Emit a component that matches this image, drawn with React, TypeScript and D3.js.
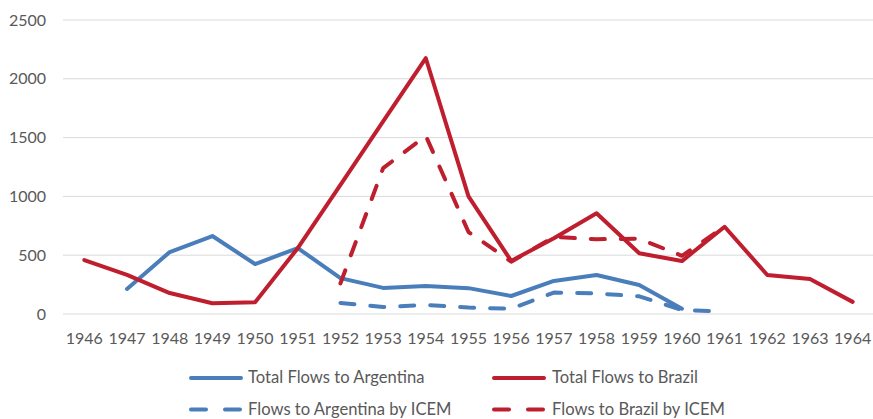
import React from "react";
import * as d3 from "d3";

const years: string[] = ["1946","1947","1948","1949","1950","1951","1952","1953","1954","1955","1956","1957","1958","1959","1960","1961","1962","1963","1964"];
const argentinaTotal: (number | null)[] = [null, 213, 527, 663, 425, 561, 305, 222, 238, 220, 153, 281, 332, 247, 45, null, null, null, null];
const brazilTotal: (number | null)[] = [459, 332, 178, 92, 100, 560, 1098, 1637, 2175, 1000, 451, 645, 857, 517, 450, 742, 332, 297, 103];
const argentinaICEM: (number | null)[] = [null, null, null, null, null, null, 94, 60, 77, 55, 45, 182, 175, 150, 35, 20, null, null, null];
const brazilICEM: (number | null)[] = [null, null, null, null, null, null, 260, 1240, 1515, 697, 445, 655, 636, 640, 495, 742, null, null, null];
const yTicks: number[] = [0, 500, 1000, 1500, 2000, 2500];

const BLUE = "#4a7ebb";
const RED = "#be1e2d";
const FONT = "Lato, 'Open Sans', sans-serif";
const TEXT = "#595959";

const seriesList = [
  { name: "Total Flows to Argentina", values: argentinaTotal, color: BLUE, dashed: false },
  { name: "Total Flows to Brazil", values: brazilTotal, color: RED, dashed: false },
  { name: "Flows to Argentina by ICEM", values: argentinaICEM, color: BLUE, dashed: true },
  { name: "Flows to Brazil by ICEM", values: brazilICEM, color: RED, dashed: true },
];

export default function App() {
  const W = 873, H = 419;
  const x = d3.scalePoint<string>().domain(years).range([63, 874]).padding(0.5);
  const y = d3.scaleLinear().domain([0, 2500]).range([314, 20]);
  const line = d3
    .line<number | null>()
    .defined((d) => d !== null)
    .x((_, i) => x(years[i]) as number)
    .y((d) => y(d as number));

  const legendPos = [
    { lx: 189, tx: 248, ly: 378 },
    { lx: 492, tx: 552, ly: 378 },
    { lx: 189, tx: 248, ly: 409.5 },
    { lx: 492, tx: 552, ly: 409.5 },
  ];

  return (
    <svg width={W} height={H} style={{ position: "absolute", left: 0, top: 0, display: "block", background: "#fff" }}>
      {yTicks.map((t) => (
        <g key={t}>
          <line x1={63} x2={873} y1={y(t)} y2={y(t)} stroke="#d9d9d9" strokeWidth={1} />
          <text x={46} y={y(t)} dy="0.35em" textAnchor="end" fontFamily={FONT} fontSize={16} fill={TEXT}>
            {t}
          </text>
        </g>
      ))}
      {years.map((yr) => (
        <text key={yr} x={x(yr)} y={344} textAnchor="middle" fontFamily={FONT} fontSize={16} fill={TEXT}>
          {yr}
        </text>
      ))}
      {seriesList.map((s) => (
        <path
          key={s.name}
          d={line(s.values) || ""}
          fill="none"
          stroke={s.color}
          strokeWidth={4}
          strokeLinejoin="round"
          strokeLinecap="round"
          strokeDasharray={s.dashed ? "14 16" : undefined}
        />
      ))}
      {seriesList.map((s, i) => {
        const p = legendPos[i];
        return (
          <g key={"lg" + s.name}>
            <line
              x1={p.lx + 2}
              x2={p.lx + 52}
              y1={p.ly}
              y2={p.ly}
              stroke={s.color}
              strokeWidth={4}
              strokeLinecap="round"
              strokeDasharray={s.dashed ? "15 19" : undefined}
            />
            <text x={p.tx} y={p.ly} dy="0.33em" fontFamily={FONT} fontSize={16.6} fill={TEXT}>
              {s.name}
            </text>
          </g>
        );
      })}
    </svg>
  );
}
